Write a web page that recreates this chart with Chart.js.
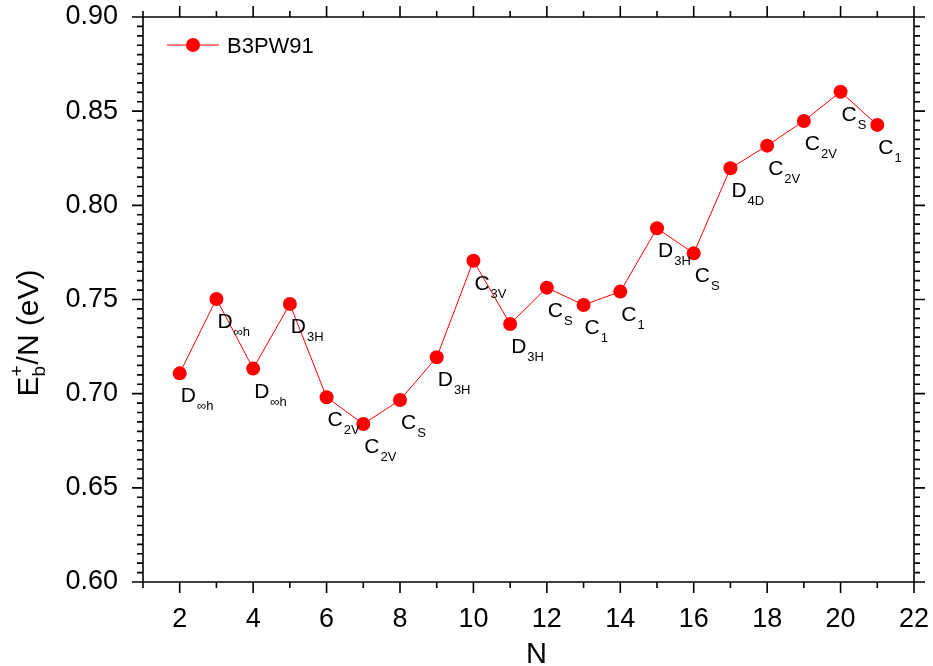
<!DOCTYPE html>
<html><head><meta charset="utf-8">
<script src="https://cdn.jsdelivr.net/npm/chart.js@4.4.0/dist/chart.umd.min.js"></script>
<style>html,body{margin:0;padding:0;background:#fff;overflow:hidden}#c{display:block}</style>
</head><body>
<canvas id="c" width="933" height="666"></canvas>
<script>
// ---- data ----
const clusterSizes = [2,3,4,5,6,7,8,9,10,11,12,13,14,15,16,17,18,19,20,21];
const bindingEnergyPerAtom = [0.7108,0.7503,0.7133,0.7476,0.6981,0.6839,0.6966,0.7193,0.7706,0.7370,0.7563,0.7471,0.7542,0.7878,0.7745,0.8197,0.8317,0.8448,0.8603,0.8427];
const groupLetter = ['D','D','D','D','C','C','C','D','C','D','C','C','C','D','C','D','C','C','C','C'];
const groupSubscript = ['\u221Eh','\u221Eh','\u221Eh','3H','2V','2V','S','3H','3V','3H','S','1','1','3H','S','4D','2V','2V','S','1'];
const xTickValues = [2,4,6,8,10,12,14,16,18,20,22];
const yTickValues = [0.60,0.65,0.70,0.75,0.80,0.85,0.90];
const seriesName = 'B3PW91';
const xTitle = 'N';

const FONT = "'Liberation Sans', Arial, sans-serif";
const RED = '#ff0000';

const decorPlugin = {
  id: 'decor',
  beforeDatasetsDraw(chart) {
    const ctx = chart.ctx, a = chart.chartArea;
    const xs = chart.scales.x, ys = chart.scales.y;
    ctx.save();
    ctx.strokeStyle = '#000';
    ctx.lineWidth = 1.6;
    ctx.beginPath();
    ctx.rect(a.left, a.top, a.right - a.left, a.bottom - a.top);
    ctx.stroke();
    ctx.beginPath();
    for (let v = xs.min; v <= xs.max + 1e-9; v += 1) {
      const px = xs.getPixelForValue(v);
      const len = xTickValues.includes(v) ? 11 : 6;
      ctx.moveTo(px, a.bottom); ctx.lineTo(px, a.bottom + len);
      ctx.moveTo(px, a.top); ctx.lineTo(px, a.top - len);
    }
    const steps = Math.round((ys.max - ys.min) / 0.005);
    for (let k = 0; k <= steps; k++) {
      const v = ys.min + k * 0.005;
      const py = ys.getPixelForValue(v);
      const len = (k % 10 === 0) ? 11 : 6;
      ctx.moveTo(a.left, py); ctx.lineTo(a.left - len, py);
      ctx.moveTo(a.right, py); ctx.lineTo(a.right + len, py);
    }
    ctx.stroke();
    ctx.restore();
  },
  afterDatasetsDraw(chart) {
    const ctx = chart.ctx, a = chart.chartArea;
    const xs = chart.scales.x, ys = chart.scales.y;
    ctx.save();
    ctx.fillStyle = '#000';
    ctx.textBaseline = 'alphabetic';
    ctx.textAlign = 'left';
    clusterSizes.forEach((n, i) => {
      const px = xs.getPixelForValue(n) + 1;
      const py = ys.getPixelForValue(bindingEnergyPerAtom[i]) + 29;
      ctx.font = '21px ' + FONT;
      ctx.fillText(groupLetter[i], px, py);
      const w = ctx.measureText(groupLetter[i]).width;
      ctx.font = '13px ' + FONT;
      ctx.fillText(groupSubscript[i], px + w + 1, py + 8);
    });
    // legend
    const ly = 45;
    ctx.strokeStyle = RED; ctx.lineWidth = 1;
    ctx.beginPath(); ctx.moveTo(167, ly); ctx.lineTo(219, ly); ctx.stroke();
    ctx.fillStyle = RED;
    ctx.beginPath(); ctx.arc(193, ly, 7, 0, Math.PI * 2); ctx.fill();
    ctx.fillStyle = '#000';
    ctx.font = '22px ' + FONT;
    ctx.fillText(seriesName, 227, ly + 8);
    // x title
    ctx.font = '29px ' + FONT;
    ctx.textAlign = 'center';
    ctx.fillText(xTitle, (a.left + a.right) / 2 + 8, 663);
    // y title: E_b^+/N (eV)
    ctx.translate(38, 333);
    ctx.rotate(-Math.PI / 2);
    ctx.textAlign = 'left';
    ctx.font = '30px ' + FONT;
    const wE = ctx.measureText('E').width;
    ctx.font = '19px ' + FONT;
    const wSub = Math.max(ctx.measureText('b').width, ctx.measureText('+').width);
    ctx.font = '30px ' + FONT;
    const rest = '/N (eV)';
    const wRest = ctx.measureText(rest).width;
    const total = wE + wSub + 1 + wRest;
    let x0 = -total / 2;
    ctx.fillText('E', x0, 0);
    ctx.font = '19px ' + FONT;
    ctx.fillText('b', x0 + wE, 7);
    ctx.fillText('+', x0 + wE, -15);
    ctx.font = '30px ' + FONT;
    ctx.fillText(rest, x0 + wE + wSub + 1, 0);
    ctx.restore();
  }
};

new Chart(document.getElementById('c'), {
  type: 'line',
  data: {
    datasets: [{
      label: seriesName,
      data: clusterSizes.map((n, i) => ({ x: n, y: bindingEnergyPerAtom[i] })),
      borderColor: RED,
      backgroundColor: RED,
      borderWidth: 1,
      pointRadius: 7,
      pointBorderWidth: 0,
      pointBackgroundColor: RED,
      pointHoverRadius: 7,
      tension: 0,
      clip: false
    }]
  },
  options: {
    responsive: false,
    animation: false,
    devicePixelRatio: 1,
    layout: { padding: { top: 17, right: 19, left: 0, bottom: 0 } },
    plugins: { legend: { display: false }, tooltip: { enabled: false } },
    scales: {
      x: {
        type: 'linear', min: 1, max: 22,
        afterBuildTicks: s => { s.ticks = xTickValues.map(v => ({ value: v })); },
        afterFit: s => { s.height = 84; s.paddingLeft = 0; s.paddingRight = 0; },
        grid: { display: false, drawTicks: false },
        border: { display: false },
        ticks: { color: '#000', font: { family: FONT, size: 27 }, padding: 21, maxRotation: 0, autoSkip: false, callback: v => String(v) }
      },
      y: {
        type: 'linear', min: 0.6, max: 0.9,
        afterBuildTicks: s => { s.ticks = yTickValues.map(v => ({ value: v })); },
        afterFit: s => { s.width = 143; s.paddingTop = 0; s.paddingBottom = 0; },
        grid: { display: false, drawTicks: false },
        border: { display: false },
        ticks: { color: '#000', font: { family: FONT, size: 27 }, padding: 25, autoSkip: false, callback: v => Number(v).toFixed(2) }
      }
    }
  },
  plugins: [decorPlugin]
});
</script>
</body></html>
